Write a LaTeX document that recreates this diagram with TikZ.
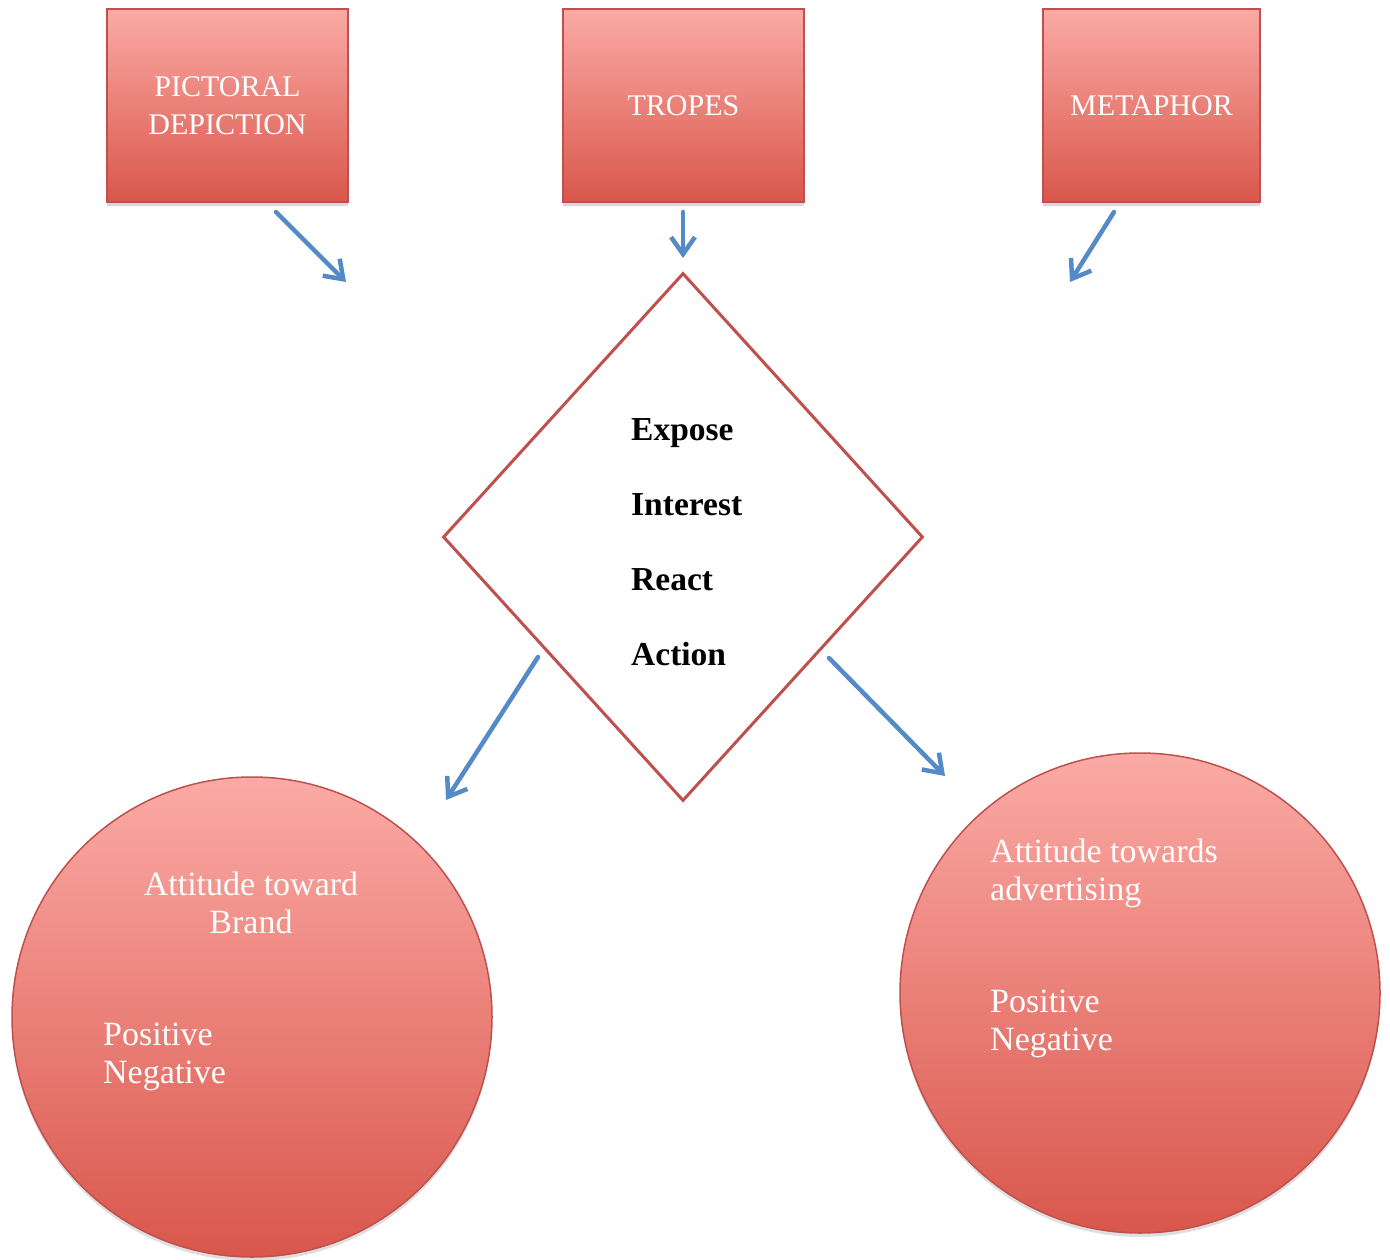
\documentclass[tikz,border=0pt]{standalone}
\usepackage{fontspec}
\setmainfont{Liberation Serif}
\usetikzlibrary{shapes.geometric,shadows,arrows.meta}

\definecolor{boxedge}{RGB}{192,80,77}
\definecolor{boxtop}{RGB}{251,170,165}
\definecolor{boxbottom}{RGB}{217,87,76}
\definecolor{arrowblue}{RGB}{84,138,199}

\begin{document}
\begin{tikzpicture}[x=1pt,y=-1pt,
  top box/.style={rectangle,draw=boxedge,line width=1.5pt,top color=boxtop,bottom color=boxbottom,
    drop shadow={opacity=0.3,shadow xshift=0pt,shadow yshift=-4pt},
    minimum width=241pt,minimum height=193pt,inner sep=0pt,
    text=white,align=center,font=\fontsize{30}{38}\selectfont},
  attitude circle/.style={circle,draw=boxedge,line width=1.5pt,top color=boxtop,bottom color=boxbottom,
    drop shadow={opacity=0.25,shadow xshift=0pt,shadow yshift=-4pt},
    minimum size=480pt,inner sep=0pt},
  circle text/.style={text=white,inner sep=0pt,font=\fontsize{34}{37.5}\selectfont},
  step word/.style={anchor=base west,inner sep=0pt,font=\fontsize{33.5}{40}\selectfont\bfseries},
  blue arrow/.style={-{Straight Barb[length=17pt,width=24pt]},color=arrowblue,line width=4.5pt,
    line cap=round,line join=round}]

 \useasboundingbox (0,0) rectangle (1390,1260);

 % boxes on top
 \node[top box] (pictoral) at (227.5,105.5) {PICTORAL\\DEPICTION};
 \node[top box] (tropes) at (683.5,105.5) {TROPES};
 \node[top box,minimum width=217pt] (metaphor) at (1151.5,105.5) {METAPHOR};

 % diamond
 \node[diamond,draw=boxedge,line width=3pt,fill=white,minimum width=480pt,minimum height=528pt,
   inner sep=0pt] (aida) at (683,537) {};
 \node[step word] (expose) at (631,440) {Expose};
 \node[step word] (interest) at (631,515) {Interest};
 \node[step word] (react) at (631,590) {React};
 \node[step word] (action) at (631,665) {Action};

 % circles (text anchored at the base of its last line)
 \node[attitude circle] (brand) at (252,1017) {};
 \node[attitude circle] (advert) at (1140,993) {};
 \node[circle text,anchor=base,align=center] (brand title) at (251,933) {Attitude toward\\Brand};
 \node[circle text,anchor=base west,align=left] (brand posneg) at (103,1083) {Positive\\Negative};
 \node[circle text,anchor=base west,align=left] (advert title) at (990,900) {Attitude towards\\advertising};
 \node[circle text,anchor=base west,align=left] (advert posneg) at (990,1050) {Positive\\Negative};

 \coordinate (pictoral tail) at (276,212);
 \coordinate (pictoral head) at (346,282);
 \coordinate (tropes tail) at (683,212);
 \coordinate (tropes head) at (683,258);
 \coordinate (metaphor tail) at (1114,212);
 \coordinate (metaphor head) at (1070,282);
 \coordinate (brand tail) at (538,657);
 \coordinate (brand head) at (446,800);
 \coordinate (advert tail) at (829,658);
 \coordinate (advert head) at (945,776);

 \path[blue arrow]
    (pictoral tail) edge (pictoral head)
    (tropes tail)   edge (tropes head)
    (metaphor tail) edge (metaphor head)
    (brand tail)    edge (brand head)
    (advert tail)   edge (advert head);

\end{tikzpicture}
\end{document}
